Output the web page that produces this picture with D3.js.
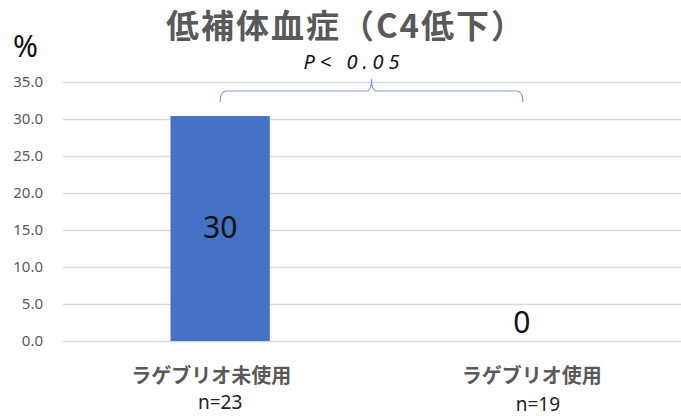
<!DOCTYPE html>
<html>
<head>
<meta charset="utf-8">
<script src="https://cdn.jsdelivr.net/npm/d3@7"></script>
<style>
  body { margin: 0; background: #fff; }
  text { font-family: "Noto Sans CJK JP", "Noto Sans", sans-serif; }
</style>
</head>
<body>
<div id="chart"></div>
<script>
// data
var groups = ["ラゲブリオ未使用", "ラゲブリオ使用"];
var groupN = ["n=23", "n=19"];
var rates = [30.4, 0];
var rateLabels = ["30", "0"];
var yTicks = [0, 5, 10, 15, 20, 25, 30, 35];

var width = 681, height = 416;
var margin = {top: 82, right: 0, bottom: 75, left: 63};

var svg = d3.select("#chart").append("svg")
    .attr("width", width)
    .attr("height", height);

var x = d3.scaleBand()
    .domain(groups)
    .range([margin.left, width - margin.right])
    .paddingInner(0.673)
    .paddingOuter(0.354);

var y = d3.scaleLinear()
    .domain([0, 35])
    .range([height - margin.bottom, margin.top]);

// gridlines
svg.append("g")
    .selectAll("line")
    .data(yTicks)
    .enter()
    .append("line")
    .attr("x1", margin.left)
    .attr("x2", width)
    .attr("y1", function (d) { return Math.round(y(d)) + 0.5; })
    .attr("y2", function (d) { return Math.round(y(d)) + 0.5; })
    .attr("stroke", "#d9d9d9")
    .attr("stroke-width", 1.5);

// y axis labels
var yAxis = svg.append("g")
    .attr("transform", "translate(" + (margin.left - 17) + ",0)")
    .call(d3.axisLeft(y).tickValues(yTicks).tickSize(0).tickFormat(d3.format(".1f")));
yAxis.select(".domain").remove();
yAxis.selectAll("text")
    .attr("fill", "#595959")
    .style("font-size", "15px")
    .style("font-family", "'Noto Sans', sans-serif");

// bars
svg.selectAll(".bar")
    .data(rates)
    .enter()
    .append("rect")
    .attr("class", "bar")
    .attr("x", function (d, i) { return x(groups[i]); })
    .attr("y", function (d) { return y(d); })
    .attr("width", x.bandwidth())
    .attr("height", function (d) { return y(0) - y(d); })
    .attr("fill", "#4472c4");

// value labels
svg.selectAll(".val")
    .data(rates)
    .enter()
    .append("text")
    .attr("class", "val")
    .attr("x", function (d, i) { return x(groups[i]) + x.bandwidth() / 2 + (d > 0 ? 0 : -2); })
    .attr("y", function (d) { return d > 0 ? (y(d) + y(0)) / 2 + 9 : y(0) - 8; })
    .attr("text-anchor", "middle")
    .attr("fill", "#111")
    .style("font-size", "30px")
    .style("font-family", "'Noto Sans', sans-serif")
    .text(function (d, i) { return rateLabels[i]; });

// category labels
var catShift = [-9, 8], nShift = [0, 14];
svg.selectAll(".cat")
    .data(groups)
    .enter()
    .append("text")
    .attr("class", "cat")
    .attr("x", function (d, i) { return x(d) + x.bandwidth() / 2 + catShift[i]; })
    .attr("y", 383)
    .attr("text-anchor", "middle")
    .attr("fill", "#595959")
    .style("font-size", "20px")
    .style("font-weight", "bold")
    .text(function (d) { return d; });

svg.selectAll(".nlab")
    .data(groupN)
    .enter()
    .append("text")
    .attr("class", "nlab")
    .attr("x", function (d, i) { return x(groups[i]) + x.bandwidth() / 2 + nShift[i]; })
    .attr("y", function (d, i) { return i === 0 ? 409 : 411; })
    .attr("text-anchor", "middle")
    .attr("fill", "#222")
    .style("font-size", "19px")
    .style("font-family", "'Noto Sans', sans-serif")
    .text(function (d) { return d; });

// significance bracket
var bx1 = x(groups[0]) + x.bandwidth() / 2,
    bx2 = x(groups[1]) + x.bandwidth() / 2 - 1,
    bmid = (bx1 + bx2) / 2,
    by = 91;
var bracket = d3.path();
bracket.moveTo(bx1, by + 11);
bracket.quadraticCurveTo(bx1, by, bx1 + 6, by);
bracket.lineTo(bmid - 5, by);
bracket.quadraticCurveTo(bmid, by, bmid, by - 12);
bracket.quadraticCurveTo(bmid, by, bmid + 5, by);
bracket.lineTo(bx2 - 6, by);
bracket.quadraticCurveTo(bx2, by, bx2, by + 11);
svg.append("path")
    .attr("d", bracket.toString())
    .attr("fill", "none")
    .attr("stroke", "#7f9fd8")
    .attr("stroke-width", 1.2);

svg.append("text")
    .attr("x", 354)
    .attr("y", 69)
    .attr("text-anchor", "middle")
    .attr("fill", "#111")
    .style("font-size", "20px")
    .style("font-style", "italic")
    .style("letter-spacing", "5px")
    .style("font-family", "'Noto Sans', sans-serif")
    .text("P< 0.05");

// title and unit
svg.append("text")
    .attr("x", 346)
    .attr("y", 38)
    .attr("text-anchor", "middle")
    .attr("fill", "#595959")
    .style("font-size", "33px")
    .style("font-weight", "bold")
    .style("letter-spacing", "2px")
    .text("低補体血症（C4低下）");

svg.append("text")
    .attr("x", 13)
    .attr("y", 57)
    .attr("fill", "#111")
    .style("font-size", "30px")
    .style("font-family", "'Noto Sans', sans-serif")
    .text("%");
</script>
</body>
</html>
